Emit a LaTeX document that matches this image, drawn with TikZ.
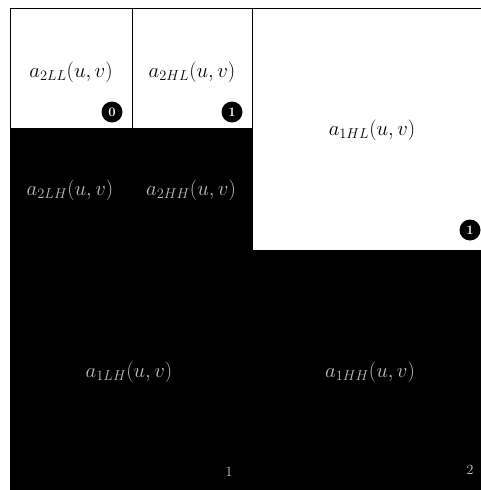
\documentclass[tikz,border=0pt]{standalone}
\begin{document}
\begin{tikzpicture}[x=1pt,y=-1pt,
  lbl/.style={font=\fontsize{20}{22}\selectfont, inner sep=0pt},
  lblw/.style={lbl, text=white!75!black},
  dotmark/.style={circle, fill=black, minimum size=21pt, inner sep=0pt, text=white, font=\fontsize{13}{14}\selectfont\bfseries},
  numw/.style={text=white!80!black, font=\fontsize{14}{15}\selectfont, inner sep=0pt},
  cellline/.style={draw=black, line width=0.8pt}]
\useasboundingbox (0,0) rectangle (481,490);
\fill[white] (0,0) rectangle (481,490);
% bottom half black
\fill[black] (10,250) rectangle (481,490);
% bottom-left cells of top-left quadrant black
\fill[black] (10,128) rectangle (252,250);
% borders
\draw[cellline] (10,8) rectangle (252,250);
\draw[cellline] (132,8) -- (132,128);
\draw[cellline] (10,128) -- (252,128);
\draw[cellline] (252,8) -- (481,8);
\draw[cellline] (252,250) -- (481,250);
% labels
\node[lbl] (ll) at (71,72) {$a_{2LL}(u,v)$};
\node[lbl] (hl2) at (192,72) {$a_{2HL}(u,v)$};
\node[lbl] (hl1) at (372,130) {$a_{1HL}(u,v)$};
\node[lblw] (lh2) at (70,190) {$a_{2LH}(u,v)$};
\node[lblw] (hh2) at (191,190) {$a_{2HH}(u,v)$};
\node[lblw] (lh1) at (129,372) {$a_{1LH}(u,v)$};
\node[lblw] (hh1) at (370,372) {$a_{1HH}(u,v)$};
% markers
\node[dotmark] (m0) at (112,112) {0};
\node[dotmark] (m1) at (232,112) {1};
\node[dotmark] (m2) at (470,230) {1};
\node[numw] (n1) at (229,472) {1};
\node[numw] (n2) at (470,470) {2};
\end{tikzpicture}
\end{document}
